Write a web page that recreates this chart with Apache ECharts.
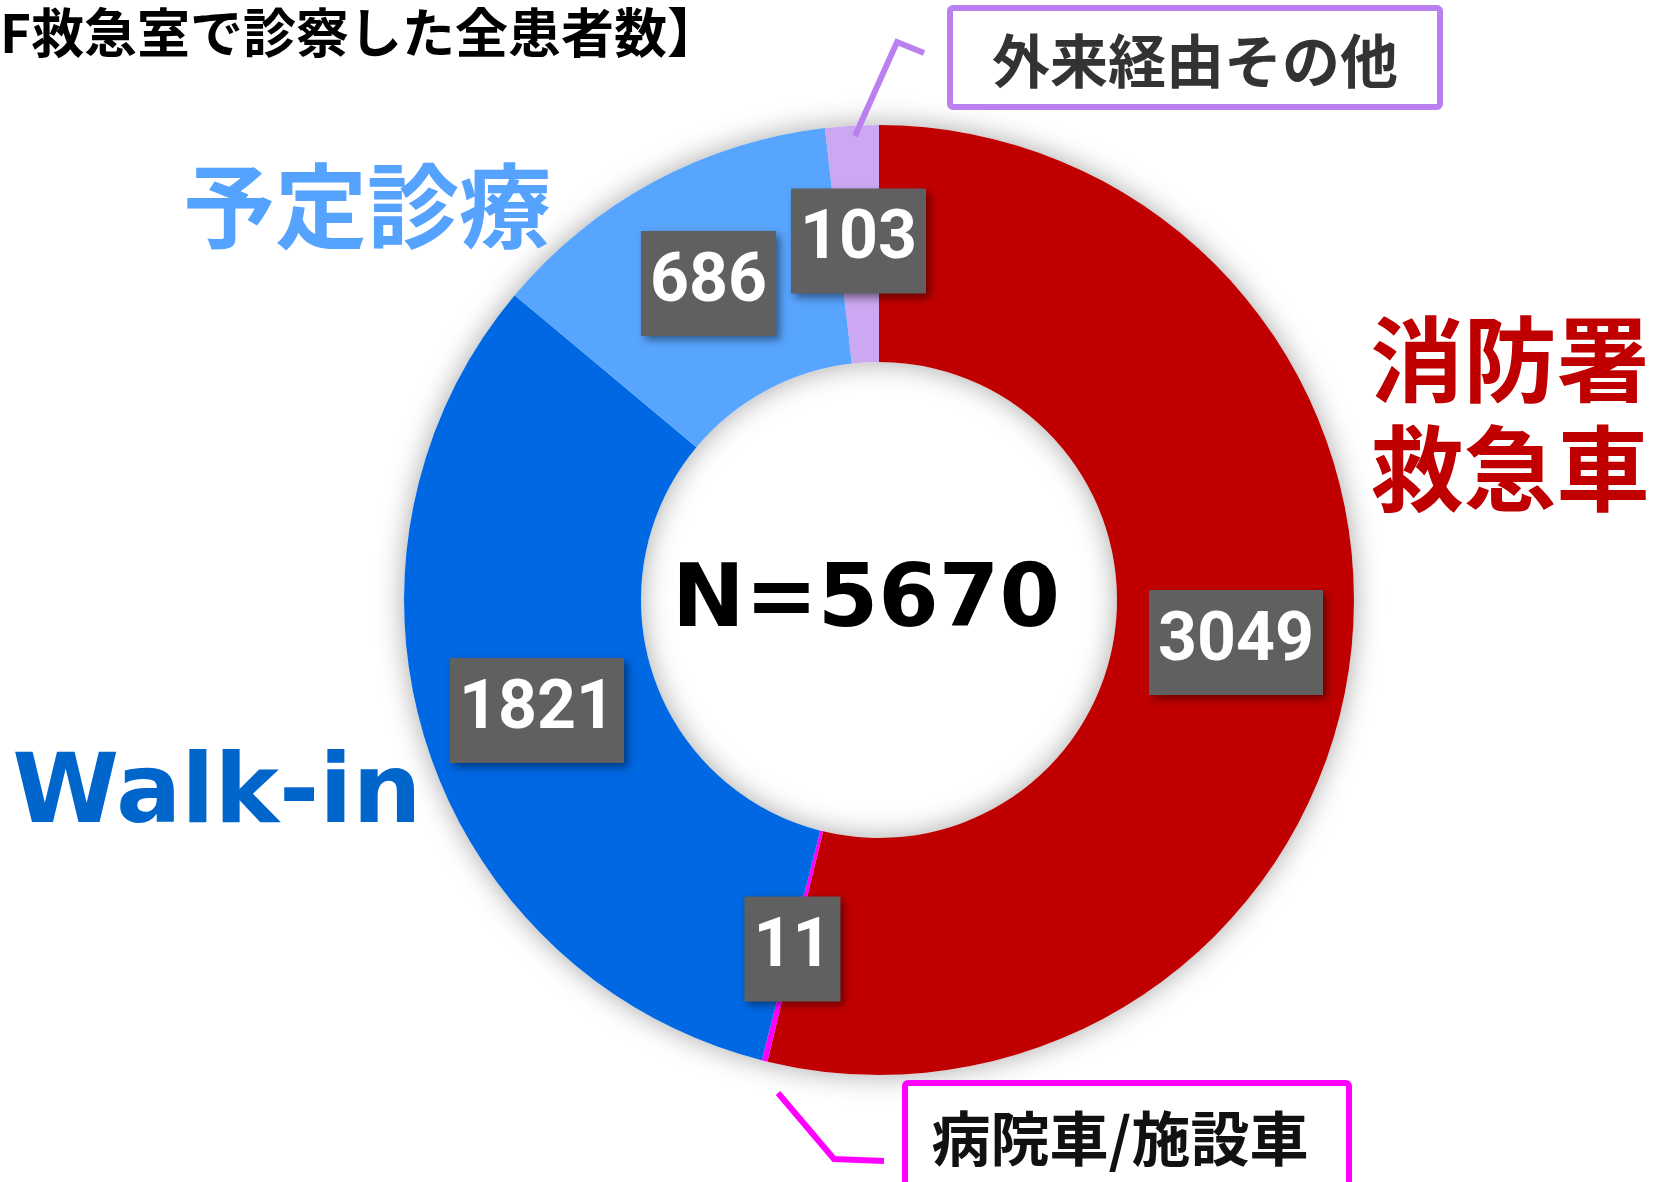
<!DOCTYPE html>
<html>
<head>
<meta charset="utf-8">
<title>F救急室で診察した全患者数</title>
<script src="https://cdn.jsdelivr.net/npm/echarts@6/dist/echarts.min.js"></script>
<style>
  html, body { margin: 0; padding: 0; background: #fff; }
  #main { width: 1660px; height: 1182px; }
</style>
</head>
<body>
<div id="main"></div>
<script>
// data
var categories = ['消防署救急車', '病院車/施設車', 'Walk-in', '予定診療', '外来経由その他'];
var counts = [3049, 11, 1821, 686, 103];
var sliceColors = ['#C00000', '#FF00FF', '#0068E3', '#58A5FF', '#CDA8F2'];
var titleText = 'F救急室で診察した全患者数】';

var total = counts.reduce(function (a, b) { return a + b; }, 0);

var chart = echarts.init(document.getElementById('main'));

var pieData = categories.map(function (name, i) {
    return { name: name, value: counts[i], itemStyle: { color: sliceColors[i] } };
});

var jp = '"Noto Sans CJK JP", "Noto Sans CJK SC", sans-serif';
var shadowText = { shadowColor: 'rgba(0,0,0,0.35)', shadowBlur: 3, shadowOffsetX: 3, shadowOffsetY: 3 };

function txt(text, x, y, font, fill, withShadow, align) {
    var style = { text: text, x: x, y: y, font: font, fill: fill, align: align || 'center', verticalAlign: 'middle' };
    if (withShadow) Object.assign(style, shadowText);
    return { type: 'text', z: 100, style: style };
}

var option = {
    backgroundColor: '#fff',
    animation: false,
    series: [
        {
            // soft shadow behind the ring
            type: 'pie',
            silent: true,
            center: [879, 600],
            radius: [238, 475],
            startAngle: 90,
            label: { show: false },
            labelLine: { show: false },
            itemStyle: {
                color: '#fff',
                shadowBlur: 28,
                shadowColor: 'rgba(0,0,0,0.35)'
            },
            data: counts.slice()
        },
        {
            type: 'pie',
            center: [879, 600],
            radius: [238, 475],
            startAngle: 90,
            itemStyle: { borderWidth: 0 },
            label: {
                show: true,
                position: 'inside',
                formatter: '{c}',
                color: '#fff',
                fontFamily: 'Roboto',
                fontWeight: 'bold',
                fontSize: 68,
                lineHeight: 68,
                backgroundColor: '#606060',
                padding: [20, 9, 17, 9],
                shadowColor: 'rgba(0,0,0,0.45)',
                shadowBlur: 8,
                shadowOffsetX: 4,
                shadowOffsetY: 4
            },
            labelLine: { show: false },
            data: pieData
        }
    ],
    graphic: [
        txt(titleText, 0, 33, 'bold 53px ' + jp, '#000', false, 'left'),
        txt('N=' + total, 866, 603, 'bold 87px "DejaVu Sans"', '#000', true),
        txt(categories[2], 217, 797, 'bold 97px "DejaVu Sans"', '#0066CC', true),
        txt(categories[3], 367, 206, 'bold 92px ' + jp, '#55A2FF', true),
        txt(categories[0].slice(0, 3), 1510, 360, 'bold 93px ' + jp, '#C00000', true),
        txt(categories[0].slice(3), 1510, 469, 'bold 93px ' + jp, '#C00000', true),
        // 外来経由その他 box
        {
            type: 'rect', z: 90,
            shape: { x: 950, y: 8, width: 490, height: 99, r: 3 },
            style: { fill: '#fff', stroke: '#BB80F0', lineWidth: 6 }
        },
        txt(categories[4], 1195, 61, 'bold 58px ' + jp, '#333', true),
        {
            type: 'polyline', z: 90,
            shape: { points: [[855, 136], [897, 42], [924, 53]] },
            style: { fill: null, stroke: '#BB80F0', lineWidth: 6 }
        },
        // 病院車/施設車 box
        {
            type: 'rect', z: 90,
            shape: { x: 905, y: 1083, width: 444, height: 110, r: 3 },
            style: { fill: '#fff', stroke: '#FF00FF', lineWidth: 6 }
        },
        txt(categories[1], 1120, 1139, 'bold 59px ' + jp, '#111', true),
        {
            type: 'polyline', z: 90,
            shape: { points: [[778, 1093], [834, 1159], [884, 1161]] },
            style: { fill: null, stroke: '#FF00FF', lineWidth: 6 }
        }
    ]
};

chart.setOption(option);
</script>
</body>
</html>
